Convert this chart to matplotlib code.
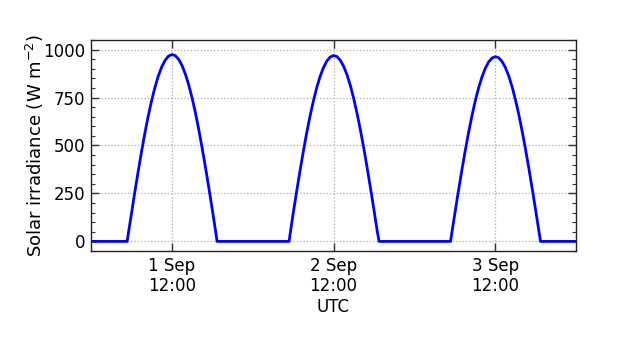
import matplotlib
matplotlib.use("Agg")
import matplotlib.pyplot as plt
import matplotlib.dates as mdates
from matplotlib.ticker import MultipleLocator
import datetime as dt

# Read-off data: hour of day (UTC) and irradiance (W m-2)
days = ["2019-09-01", "2019-09-02", "2019-09-03"]
sunrise_h = [5.36, 5.40, 5.37]
sunset_h = [18.72, 18.77, 18.73]
day_hours = [6.0, 6.5, 7.0, 7.5, 8.0, 8.5, 9.0, 9.5, 10.0, 10.5, 11.0, 11.5, 12.0,
             12.5, 13.0, 13.5, 14.0, 14.5, 15.0, 15.5, 16.0, 16.5, 17.0, 17.5, 18.0, 18.5]
irr_day1 = [143, 256, 364, 468, 565, 654, 734, 804, 863, 910, 944, 966, 974,
            969, 950, 918, 873, 817, 749, 671, 583, 487, 385, 278, 167, 53]
irr_day2 = [143, 254, 362, 465, 562, 650, 730, 800, 859, 905, 940, 961, 969,
            964, 945, 913, 869, 813, 745, 667, 580, 485, 383, 276, 166, 52]
irr_day3 = [142, 253, 360, 462, 558, 646, 726, 795, 853, 900, 934, 955, 963,
            958, 939, 908, 864, 808, 740, 663, 576, 482, 381, 275, 165, 52]
irr_days = [irr_day1, irr_day2, irr_day3]

yticks = [0, 250, 500, 750, 1000]
xtick_labels = ["1 Sep\n12:00", "2 Sep\n12:00", "3 Sep\n12:00"]

times = []
vals = []
for d, sr, ss, irr in zip(days, sunrise_h, sunset_h, irr_days):
    base = dt.datetime.strptime(d, "%Y-%m-%d")
    hrs = [0.0, sr] + day_hours + [ss]
    vv = [0, 0] + irr + [0]
    for h, v in zip(hrs, vv):
        times.append(base + dt.timedelta(hours=h))
        vals.append(v)
end = dt.datetime.strptime(days[-1], "%Y-%m-%d") + dt.timedelta(days=1)
times.append(end)
vals.append(0)

fig = plt.figure(figsize=(6.35, 3.57), dpi=100)
ax = fig.add_axes([91/635, 1 - 251/357, (576-91)/635, (251-40)/357])
ax.plot(times, vals, color="#0000ff", lw=2.0)

start = dt.datetime.strptime(days[0], "%Y-%m-%d")
ax.set_xlim(start, end)
ax.set_ylim(-50, 1050)

tick_pos = [dt.datetime.strptime(d, "%Y-%m-%d") + dt.timedelta(hours=12) for d in days]
ax.set_xticks([mdates.date2num(t) for t in tick_pos])
ax.set_xticklabels(xtick_labels, fontsize=12)
ax.set_yticks(yticks)
ax.set_yticklabels([str(v) for v in yticks], fontsize=12)
ax.yaxis.set_minor_locator(MultipleLocator(50))

ax.tick_params(which="both", direction="in", top=True, right=True, color="#333333")
ax.tick_params(which="major", length=6, width=1)
ax.tick_params(which="minor", length=3, width=0.8)
ax.tick_params(axis="x", which="major", pad=4)
ax.tick_params(axis="y", which="major", pad=4)

ax.grid(True, which="major", linestyle=":", color="#aaaaaa", lw=0.9)
for s in ax.spines.values():
    s.set_color("#222222")
    s.set_linewidth(1.0)

ax.set_xlabel("UTC", fontsize=12, labelpad=2)
ax.set_ylabel("Solar irradiance (W m$^{-2}$)", fontsize=13, labelpad=-2)

fig.savefig("out.png", dpi=100)
